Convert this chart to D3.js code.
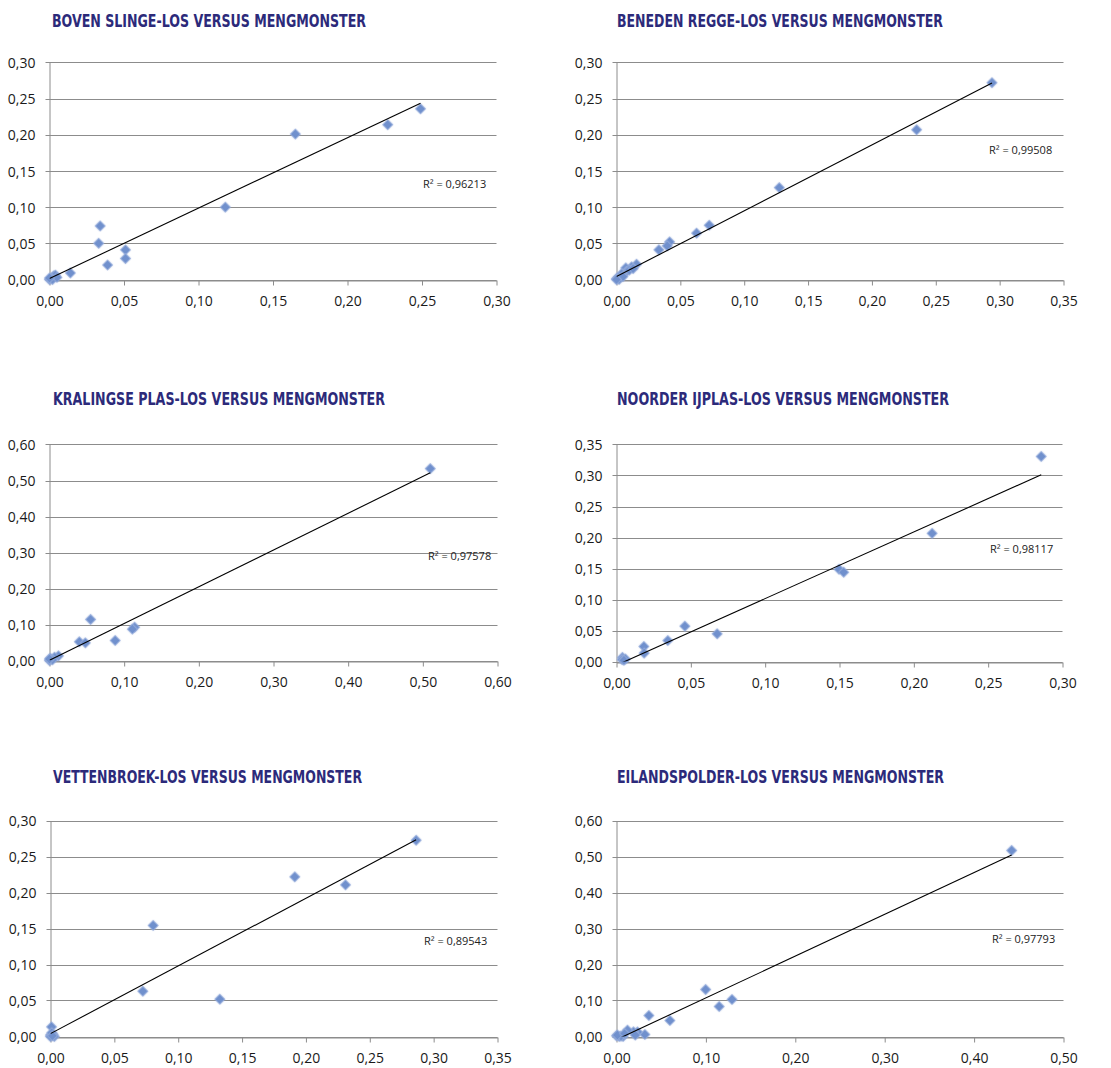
<!DOCTYPE html>
<html>
<head>
<meta charset="utf-8">
<script src="https://cdn.jsdelivr.net/npm/d3@7"></script>
<style>
  body { margin: 0; background: #ffffff; }
  svg { display: block; }
</style>
</head>
<body>
<svg id="chart" width="1111" height="1068"></svg>
<script>
// ---- data -------------------------------------------------------------
const titles = [
  "BOVEN SLINGE-LOS VERSUS MENGMONSTER",
  "BENEDEN REGGE-LOS VERSUS MENGMONSTER",
  "KRALINGSE PLAS-LOS VERSUS MENGMONSTER",
  "NOORDER IJPLAS-LOS VERSUS MENGMONSTER",
  "VETTENBROEK-LOS VERSUS MENGMONSTER",
  "EILANDSPOLDER-LOS VERSUS MENGMONSTER"
];
const r2Labels = ["R² = 0,96213", "R² = 0,99508", "R² = 0,97578",
                  "R² = 0,98117", "R² = 0,89543", "R² = 0,97793"];

const xMaxes = [0.30, 0.35, 0.60, 0.30, 0.35, 0.50];
const yMaxes = [0.30, 0.30, 0.60, 0.35, 0.30, 0.60];
const xSteps = [0.05, 0.05, 0.10, 0.05, 0.05, 0.10];
const ySteps = [0.05, 0.05, 0.10, 0.05, 0.05, 0.10];

// linear trend: y = intercept + slope * x
const trendSlopes     = [0.974, 0.910, 1.020, 1.075, 0.940, 1.160];
const trendIntercepts = [0.0013, 0.004, 0.001, -0.006, 0.004, -0.0087];

// [los, mengmonster]
const bovenSlinge = [
  [0.249, 0.236], [0.227, 0.214], [0.165, 0.201], [0.118, 0.100],
  [0.034, 0.074], [0.033, 0.050], [0.051, 0.041], [0.051, 0.029],
  [0.039, 0.020], [0.014, 0.009], [0.000, 0.000], [0.001, 0.001],
  [0.002, 0.003], [0.003, 0.005], [0.004, 0.006], [0.002, 0.000],
  [0.005, 0.003], [0.000, 0.002]
];
const benedenRegge = [
  [0.294, 0.272], [0.235, 0.207], [0.1275, 0.127], [0.0726, 0.075],
  [0.0627, 0.064], [0.0416, 0.052], [0.0397, 0.0465], [0.0332, 0.041],
  [0.0157, 0.021], [0.0118, 0.0175], [0.0073, 0.016], [0.0078, 0.011],
  [0.004, 0.008], [0.0013, 0.003], [0.000, 0.001], [0.002, 0.000],
  [0.010, 0.013], [0.013, 0.015], [0.005, 0.004], [0.000, 0.000]
];
const kralingsePlas = [
  [0.510, 0.533], [0.055, 0.114], [0.114, 0.0925], [0.111, 0.087],
  [0.088, 0.0556], [0.040, 0.052], [0.048, 0.049], [0.012, 0.013],
  [0.0067, 0.009], [0.000, 0.000], [0.002, 0.003], [0.001, 0.006],
  [0.004, 0.002], [0.000, 0.004]
];
const noorderIJplas = [
  [0.2857, 0.3307], [0.2123, 0.2067], [0.1497, 0.1488], [0.1528, 0.1439],
  [0.046, 0.057], [0.0677, 0.0446], [0.0345, 0.0338], [0.0184, 0.0242],
  [0.0186, 0.0135], [0.004, 0.0065], [0.0038, 0.003], [0.006, 0.004],
  [0.005, 0.002]
];
const vettenbroek = [
  [0.2863, 0.2726], [0.1913, 0.2217], [0.231, 0.2106], [0.0804, 0.1542],
  [0.0723, 0.0629], [0.1326, 0.0518], [0.0008, 0.0134], [0.000, 0.002],
  [0.002, 0.003], [0.003, 0.000], [0.000, 0.000], [0.001, 0.005],
  [0.0015, 0.001]
];
const eilandspolder = [
  [0.442, 0.5167], [0.0997, 0.1305], [0.1292, 0.1028], [0.1149, 0.0833],
  [0.0362, 0.0583], [0.0597, 0.0444], [0.0317, 0.0056], [0.0235, 0.0128],
  [0.019, 0.013], [0.0123, 0.0175], [0.021, 0.004], [0.0074, 0.000],
  [0.000, 0.002], [0.003, 0.000], [0.005, 0.001], [0.001, 0.004],
  [0.009, 0.008]
];
const panelPoints = [bovenSlinge, benedenRegge, kralingsePlas,
                     noorderIJplas, vettenbroek, eilandspolder];

// ---- layout -----------------------------------------------------------
const plotLeft   = [49.5, 616.5, 49.5, 616.5, 50.5, 616.5];
const plotRight  = [496.5, 1063.5, 497.5, 1062.5, 497.5, 1063.5];
const plotTop    = [62.5, 62.5, 444.5, 444.5, 820.5, 820.5];
const plotBottom = [279.5, 279.5, 660.5, 661.5, 1036.5, 1036.5];
const titleX     = [52, 617, 53, 617, 53, 617];
const titleY     = [27, 27, 405, 405, 783, 783];
const titleWidth = [314, 326, 332, 332, 309, 327];
const r2Pos      = [[423, 188], [989, 154], [428, 560], [990, 553], [424, 945], [992, 943]];

const gridColor = "#8c8c8c";
const markerFill = "#6f90cd";
const titleColor = "#2c2a7a";

const nl = d3.formatLocale({ decimal: ",", thousands: ".", grouping: [3], currency: ["€", ""] });
const fmt = nl.format(".2f");

const svg = d3.select("#chart");

const defs = svg.append("defs");
const soft = defs.append("filter").attr("id", "soft")
  .attr("x", "-50%").attr("y", "-50%").attr("width", "200%").attr("height", "200%");
soft.append("feGaussianBlur").attr("stdDeviation", 0.5);

panelPoints.forEach((pts, i) => {
  const L = plotLeft[i], R = plotRight[i], T = plotTop[i], B = plotBottom[i];
  const x = d3.scaleLinear().domain([0, xMaxes[i]]).range([L, R]);
  const y = d3.scaleLinear().domain([0, yMaxes[i]]).range([B, T]);
  const xTicks = d3.range(0, xMaxes[i] + xSteps[i] / 2, xSteps[i]);
  const yTicks = d3.range(0, yMaxes[i] + ySteps[i] / 2, ySteps[i]);

  const g = svg.append("g");

  // title
  g.append("text")
    .attr("x", titleX[i]).attr("y", titleY[i])
    .attr("textLength", titleWidth[i])
    .attr("lengthAdjust", "spacingAndGlyphs")
    .style("font-family", "'Liberation Sans Narrow', 'DejaVu Sans Condensed', Roboto, 'Liberation Sans', sans-serif")
    .style("font-weight", 700)
    .style("font-size", "18px")
    .style("fill", titleColor)
    .text(titles[i]);

  // horizontal gridlines
  g.append("g").selectAll("line").data(yTicks).join("line")
    .attr("x1", L - 4).attr("x2", R)
    .attr("y1", d => Math.round(y(d)) + 0.5)
    .attr("y2", d => Math.round(y(d)) + 0.5)
    .attr("stroke", gridColor).attr("stroke-width", 1);

  // y axis
  const yAxis = g.append("g").attr("transform", `translate(${L},0)`)
    .call(d3.axisLeft(y).tickValues(yTicks).tickFormat(fmt)
      .tickSize(0).tickSizeOuter(0).tickPadding(14));
  yAxis.select(".domain").attr("stroke", gridColor);
  yAxis.selectAll("text")
    .attr("dy", "0.36em")
    .style("font-family", "'Open Sans', 'Liberation Sans', sans-serif")
    .style("font-size", "14px").style("fill", "#1a1a1a");

  // x axis
  const xAxis = g.append("g").attr("transform", `translate(0,${Math.round(B) + 0.5})`)
    .call(d3.axisBottom(x).tickValues(xTicks).tickFormat(fmt)
      .tickSize(5).tickSizeOuter(0).tickPadding(10.5));
  xAxis.select(".domain").attr("stroke", gridColor);
  xAxis.selectAll(".tick line").attr("stroke", gridColor);
  xAxis.selectAll("text")
    .style("font-family", "'Open Sans', 'Liberation Sans', sans-serif")
    .style("font-size", "14px").style("fill", "#1a1a1a");

  // markers
  const diamond = d3.symbol().type(d3.symbolSquare).size(54);
  g.append("g").selectAll("path").data(pts).join("path")
    .attr("d", diamond)
    .attr("transform", d => `translate(${x(d[0])},${y(d[1])}) rotate(45)`)
    .attr("fill", markerFill)
    .attr("stroke", "#9bb0dd").attr("stroke-width", 0.8)
    .attr("filter", "url(#soft)");

  // trend line, clipped to plot area
  const clipId = "clip" + i;
  defs.append("clipPath").attr("id", clipId)
    .append("rect").attr("x", L).attr("y", T).attr("width", R - L).attr("height", B - T);
  const xs = d3.extent(pts, d => d[0]);
  const trend = xs.map(v => [v, trendIntercepts[i] + trendSlopes[i] * v]);
  g.append("path")
    .datum(trend)
    .attr("clip-path", `url(#${clipId})`)
    .attr("d", d3.line().x(d => x(d[0])).y(d => y(d[1])))
    .attr("fill", "none").attr("stroke", "#000").attr("stroke-width", 1.1);

  // R² label
  g.append("text")
    .attr("x", r2Pos[i][0]).attr("y", r2Pos[i][1])
    .style("font-family", "'Open Sans', 'Liberation Sans', sans-serif")
    .style("font-size", "11px").style("fill", "#222")
    .text(r2Labels[i]);
});
</script>
</body>
</html>
